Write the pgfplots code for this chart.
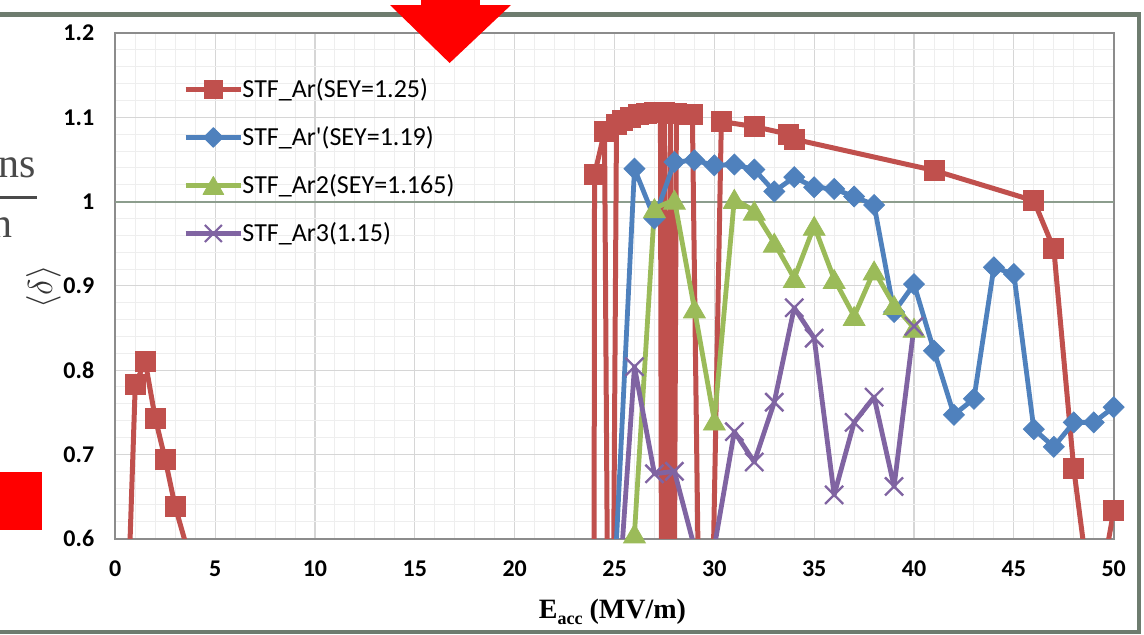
\documentclass[border=0pt]{standalone}
\usepackage{fontspec}
\setmainfont{Carlito}
\newfontfamily\timesfont{Liberation Serif}
\usepackage{pgfplots}
\usepackage{pgfplotstable}
\pgfplotsset{compat=1.18}

\definecolor{cRed}{HTML}{C0504D}
\definecolor{cBlue}{HTML}{4F81BD}
\definecolor{cGreen}{HTML}{9BBB59}
\definecolor{cPurple}{HTML}{8064A2}
\definecolor{cFrame}{HTML}{6E7C6F}
\definecolor{cOne}{HTML}{8C9D8D}
\definecolor{cBorder}{HTML}{8C8C8C}
\definecolor{cGridMaj}{HTML}{D6D6D6}
\definecolor{cGridMin}{HTML}{EEEEEE}
\definecolor{cText}{HTML}{4A4A4A}
\definecolor{cLabel}{HTML}{333333}

% STF_Ar (SEY=1.25)
\pgfplotstableread{
x y
0.5 0.43
1.0 0.783
1.5 0.81
2.0 0.743
2.5 0.694
3.0 0.638
4.0 0.555
23.95 0.0
24.0 1.032
24.5 1.083
24.8 0.0
25.1 1.092
25.4 1.096
25.8 1.100
26.2 1.103
26.6 1.105
27.0 1.106
27.3 1.106
27.4 0.0
27.5 1.106
27.6 0.0
27.8 1.105
27.9 0.0
28.1 1.105
28.5 1.104
28.9 1.103
29.5 0.0
30.35 1.095
32.0 1.089
33.7 1.080
34.0 1.074
41.0 1.037
46.0 1.001
47.0 0.944
48.0 0.683
49.0 0.5
50.0 0.633
}\redtab

% STF_Ar' (SEY=1.19)
\pgfplotstableread{
x y
25 0.55
26 1.039
27 0.980
28 1.047
29 1.049
30 1.043
31 1.044
32 1.038
33 1.012
34 1.029
35 1.017
36 1.015
37 1.006
38 0.996
39 0.869
40 0.902
41 0.823
42 0.747
43 0.766
44 0.922
45 0.914
46 0.730
47 0.709
48 0.738
49 0.738
50 0.756
}\bluetab

% STF_Ar2 (SEY=1.165)
\pgfplotstableread{
x y
26 0.606
27 0.992
28 1.002
29 0.873
30 0.740
31 1.003
32 0.989
33 0.951
34 0.909
35 0.971
36 0.908
37 0.864
38 0.918
39 0.877
40 0.850
}\greentab

% STF_Ar3 (1.15)
\pgfplotstableread{
x y
25 0.46
26 0.804
27 0.677
28 0.680
29 0.59
30 0.59
31 0.727
32 0.691
33 0.762
34 0.874
35 0.838
36 0.652
37 0.738
38 0.768
39 0.662
40 0.852
}\purpletab

\begin{document}
\begin{tikzpicture}
\begin{axis}[
  at={(57.65pt,47.65pt)}, anchor=south west,
  width=499.2pt, height=252.85pt, scale only axis,
  xmin=0, xmax=50, ymin=0.6, ymax=1.2,
  xtick={0,5,...,50},
  ytick={0.6,0.7,0.8,0.9,1,1.1,1.2},
  minor x tick num=4, minor y tick num=4,
  grid=both,
  major grid style={draw=cGridMaj, line width=0.6pt},
  minor grid style={draw=cGridMin, line width=0.5pt},
  major tick length=0pt, minor tick length=0pt,
  axis line style={draw=cBorder, line width=1.2pt},
  /pgf/number format/assume math mode=true,
  tick label style={font=\bfseries\fontsize{12}{14}\selectfont, text=black},
  xticklabel style={yshift=-7.5pt},
  yticklabel style={xshift=-7pt},
  xlabel={E\raisebox{-3pt}{\fontsize{9}{9}\selectfont acc} (MV/m)},
  xlabel style={at={(rel axis cs:0.498,-0.1574)}, anchor=base,
    font=\timesfont\bfseries\fontsize{14}{16}\selectfont, text=black},
  ylabel={$\langle\delta\rangle$},
  ylabel style={at={(rel axis cs:-0.072,0.4977)}, anchor=center,
    font=\fontsize{19}{22}\selectfont, text=cLabel},
  legend cell align=left,
  legend style={at={(rel axis cs:0.0676,0.913)}, anchor=north west,
    draw=none, fill=none, inner sep=0pt,
    font=\fontsize{13}{15.6}\selectfont, text=black,
    nodes={inner sep=0.5pt}, row sep=12pt, column sep=-1pt},
  legend image code/.code={\draw[mark repeat=2,mark phase=2,#1]
    plot coordinates {(0pt,0pt) (13.875pt,0pt) (27.75pt,0pt)};},
]
\draw[cOne, line width=1pt] (axis cs:0,1) -- (axis cs:50,1);

\addlegendimage{cRed, line width=2.4pt, line join=round, mark=square*, mark size=4.6pt, mark options={line width=0.4pt, fill=cRed}}
\addlegendentry{STF\_Ar(SEY=1.25)}
\addlegendimage{cBlue, line width=2.4pt, line join=round, mark=square*, mark size=3.5pt, mark options={rotate=45, line width=0.4pt, fill=cBlue}}
\addlegendentry{STF\_Ar\textquotesingle(SEY=1.19)}
\addlegendimage{cGreen, line width=2.4pt, line join=round, mark=triangle*, mark size=6pt, mark options={yshift=-1.5pt, line width=0.4pt, fill=cGreen}}
\addlegendentry{STF\_Ar2(SEY=1.165)}
\addlegendimage{cPurple, line width=2.4pt, line join=round, mark=x, mark size=6pt, mark options={line width=1.1pt}}
\addlegendentry{STF\_Ar3(1.15)}

\addplot[cRed, line width=2.5pt, line join=round, mark=none, forget plot] table {\redtab};
\addplot[cRed, only marks, mark=square*, mark size=5pt, mark options={line width=0.4pt, fill=cRed}, restrict y to domain=0.6:1.3, forget plot] table {\redtab};

\addplot[cBlue, line width=2.4pt, line join=round, mark=none, forget plot] table {\bluetab};
\addplot[cBlue, only marks, mark=square*, mark size=3.7pt, mark options={rotate=45, line width=0.4pt, fill=cBlue}, restrict y to domain=0.6:1.3, forget plot] table {\bluetab};

\addplot[cGreen, line width=2.4pt, line join=round, mark=none, forget plot] table {\greentab};
\addplot[cGreen, only marks, mark=triangle*, mark size=6.3pt, mark options={yshift=-1.5pt, line width=0.4pt, fill=cGreen}, restrict y to domain=0.6:1.3, forget plot] table {\greentab};

\addplot[cPurple, line width=2.4pt, line join=round, mark=none, forget plot] table {\purpletab};
\addplot[cPurple, only marks, mark=x, mark size=6.4pt, mark options={line width=1.2pt}, restrict y to domain=0.6:1.3, forget plot] table {\purpletab};
\end{axis}

% slide frame
\fill[cFrame] (-5pt,308.65pt) rectangle (570.35pt,311.15pt);
\fill[cFrame] (568.35pt,0pt) rectangle (570.35pt,311.15pt);
\fill[cFrame] (-5pt,0pt) rectangle (570.35pt,2pt);
% slide annotations
\fill[red] (210.5pt,314pt) rectangle (240pt,322pt);
\fill[red] (195pt,314.5pt) -- (255.5pt,314.5pt) -- (224.8pt,285.5pt) -- cycle;
\fill[red] (-5pt,52pt) rectangle (21pt,81pt);
\node[anchor=base east, inner sep=0pt, text=cText, font=\timesfont\fontsize{21}{24}\selectfont] at (18pt,228.5pt) {ns};
\fill[cText] (-5pt,217.5pt) rectangle (18.5pt,219pt);
\node[anchor=base east, inner sep=0pt, text=cText, font=\timesfont\fontsize{21}{24}\selectfont] at (6.5pt,198.5pt) {n};

\pgfresetboundingbox
\path[use as bounding box] (0pt,0pt) rectangle (572pt,317pt);
\end{tikzpicture}
\end{document}
